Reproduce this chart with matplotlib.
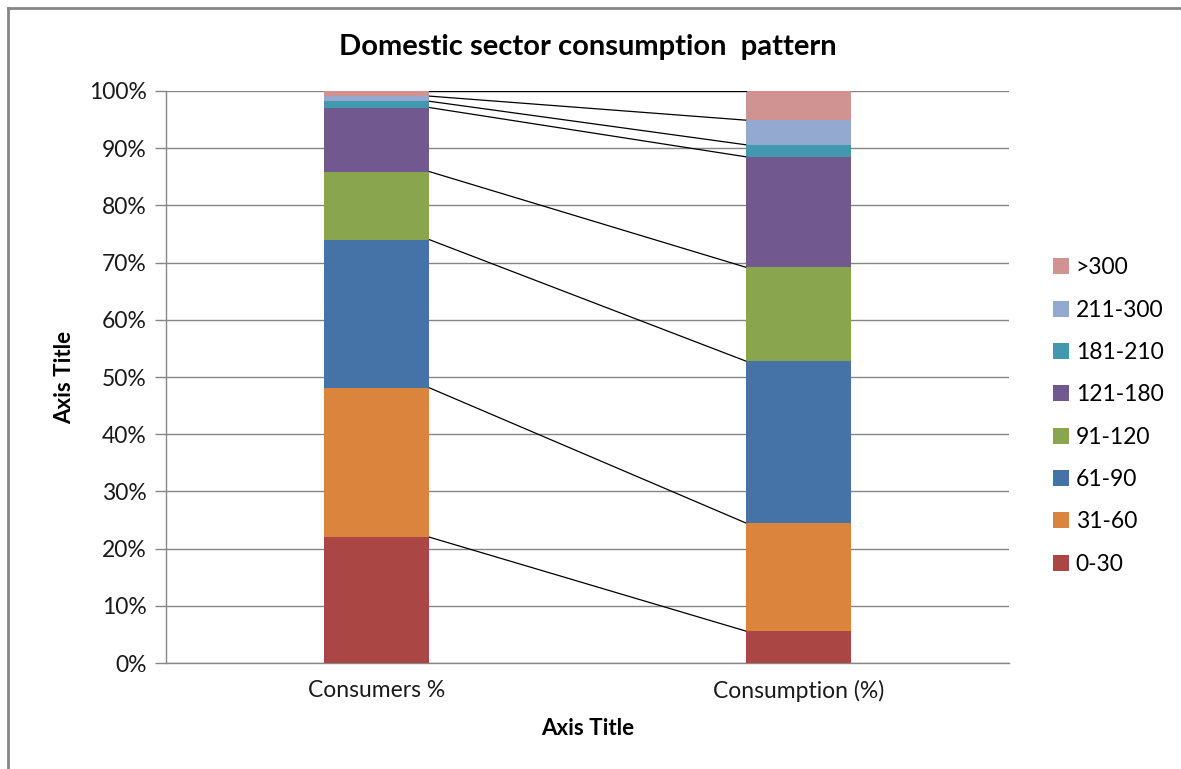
import numpy as np
import matplotlib as mpl
import matplotlib.pyplot as plt
from matplotlib.lines import Line2D

# -- DATA ---------------------------------------------------------------------

categories = ['Consumers %', 'Consumption (%)']
bands = ['0-30', '31-60', '61-90', '91-120', '121-180', '181-210', '211-300', '>300']
consumers = [22.0, 26.1, 25.9, 11.9, 11.2, 1.1, 0.9, 0.9]
consumption = [5.6, 18.9, 28.3, 16.4, 19.3, 2.1, 4.3, 5.1]
colors = ['#AA4643', '#DB843D', '#4572A7', '#89A54E',
          '#71588F', '#4198AF', '#93A9CF', '#D19392']


def set_style():
    params = {
        'font.family': ['Lato', 'DejaVu Sans'],
        'font.size': 16,
        'axes.linewidth': 1.0,
        'axes.edgecolor': '#868686',
        'xtick.labelsize': 16.5,
        'ytick.labelsize': 16.5,
    }
    mpl.rcParams.update(params)


def figure_main(o_name='out'):
    set_style()
    fig = plt.figure(figsize=(11.81, 7.69), dpi=100)
    ax = fig.add_axes([0.1406, 0.1378, 0.7138, 0.7439])

    x = np.arange(len(categories))
    width = 0.25
    data = np.array([consumers, consumption])
    bottoms = np.zeros(len(categories))
    handles = []
    for i, band in enumerate(bands):
        h = ax.bar(x, data[:, i], width, bottom=bottoms, color=colors[i],
                   edgecolor='none', label=band, zorder=3)
        handles.append(h)
        bottoms = bottoms + data[:, i]
        # series lines between bar tops
        ax.plot([x[0] + width / 2, x[1] - width / 2], bottoms,
                color='k', lw=0.9, zorder=4)

    # -- AXES DETAILS ---------------------------------------------------------

    ax.set_xlim(-0.5, 1.5)
    ax.set_xticks(x)
    ax.set_xticklabels(categories)
    ax.tick_params(axis='x', length=0, pad=12, colors='#868686', labelcolor='#1a1a1a')

    ax.set_ylim(0, 100)
    ax.set_yticks(np.arange(0, 101, 10))
    ax.set_yticklabels([f'{v}%' for v in range(0, 101, 10)])
    ax.tick_params(axis='y', length=8, width=1, pad=6, colors='#868686', labelcolor='#1a1a1a')
    ax.grid(axis='y', color='#868686', lw=1, zorder=0)
    ax.spines['top'].set_visible(False)
    ax.spines['right'].set_visible(False)

    ax.set_ylabel('Axis Title', fontweight='bold', fontsize=16, labelpad=10)
    ax.set_xlabel('Axis Title', fontweight='bold', fontsize=16, labelpad=12)
    ax.set_title('Domestic sector consumption  pattern', fontweight='bold',
                 fontsize=21, pad=26)

    fig.legend(handles[::-1], bands[::-1], loc='upper left',
               bbox_to_anchor=(0.874, 0.692), frameon=False,
               handlelength=0.7, handleheight=0.7, handletextpad=0.3,
               labelspacing=0.93, fontsize=16.5)

    # outer chart frame
    fig.add_artist(Line2D([8 / 1181, 1.0], [1 - 8 / 769, 1 - 8 / 769],
                          color='#868686', lw=2, transform=fig.transFigure))
    fig.add_artist(Line2D([8 / 1181, 8 / 1181], [0.0, 1 - 8 / 769],
                          color='#868686', lw=2, transform=fig.transFigure))

    plt.savefig(o_name + '.png', format='png', dpi=100)


def main():
    figure_main(o_name='out')


main()
